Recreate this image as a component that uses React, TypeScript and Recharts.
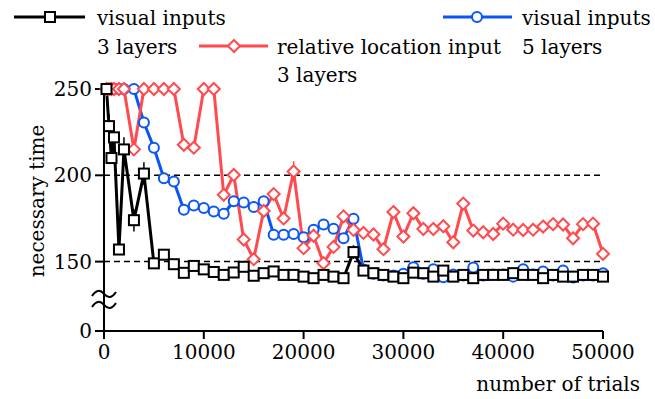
import React from "react";
import {
  LineChart,
  Line,
  XAxis,
  YAxis,
  ReferenceLine,
  ErrorBar,
  Customized,
} from "recharts";

// number of trials at which each run was measured
const trials = [
  250, 500, 750, 1000, 1500, 2000, 3000, 4000, 5000, 6000, 7000, 8000, 9000, 10000,
  11000, 12000, 13000, 14000, 15000, 16000, 17000, 18000, 19000, 20000,
  21000, 22000, 23000, 24000, 25000, 26000, 27000, 28000, 29000, 30000,
  31000, 32000, 33000, 34000, 35000, 36000, 37000, 38000, 39000, 40000,
  41000, 42000, 43000, 44000, 45000, 46000, 47000, 48000, 49000, 50000,
];

const visual3 = [
  250, 228.5, 210, 222, 157, 215, 174, 201, 149, 154, 148.5, 143.5, 147.5, 145.5,
  144, 142.3, 143.7, 147, 141.8, 143.3, 144.3, 142.3, 142.3, 141.3,
  140.4, 142.3, 141.3, 140.4, 155.5, 144.8, 143.3, 142.3, 141.3, 140.4,
  143.6, 143.3, 141.3, 144.8, 141.3, 142.3, 140.4, 142.3, 142.3, 142.3,
  143.3, 142.3, 142.3, 140.4, 142.3, 141.3, 141.3, 142.3, 142.3, 141.3,
];
const visual3Err = [
  0, 7, 0, 6, 0, 7, 6.5, 6.5, 0, 0, 0, 0, 0, 0,
  0, 0, 0, 0, 0, 0, 0, 0, 0, 0,
  0, 0, 0, 0, 4, 0, 0, 0, 0, 0,
  0, 0, 0, 0, 0, 0, 0, 0, 0, 0,
  0, 0, 0, 0, 0, 0, 0, 0, 0, 0,
];

const relative3 = [
  250, 250, 250, 250, 250, 250, 215, 250, 250, 250, 250, 217.7, 216, 250,
  250, 188.7, 200.2, 162.8, 151.4, 179.3, 189.1, 175, 202.2, 157.8,
  165, 149.1, 158.5, 176.2, 168.4, 166.6, 165.7, 157.2, 178.7, 164.5,
  178, 168.9, 168.9, 170.5, 161.2, 183.6, 168, 167, 166, 172,
  168.5, 168.3, 168.5, 170.3, 171.7, 171.5, 163.5, 171.7, 172, 154.5,
];
const relative3Err = [
  0, 0, 0, 0, 0, 0, 0, 0, 0, 0, 0, 0, 0, 0,
  0, 0, 0, 0, 0, 0, 0, 0, 6, 0,
  0, 0, 0, 0, 0, 0, 0, 0, 0, 0,
  0, 0, 0, 0, 0, 0, 0, 0, 0, 0,
  0, 0, 0, 0, 0, 0, 0, 0, 0, 0,
];

const visual5 = [
  250, 250, 250, 250, 250, 250, 250, 230.6, 216, 198.3, 196.4, 180, 182.5, 181,
  179, 177.7, 185, 184.3, 181.7, 185, 165.6, 165.6, 166, 164.1,
  168.5, 171.5, 169, 163.6, 174.8, 145.5, 143, 142, 142, 143,
  146.8, 143, 145.6, 141, 142.5, 142, 146.6, 142, 142.5, 142.5,
  141.3, 145.6, 142.5, 144.3, 142, 144.8, 140.8, 142, 142, 143.3,
];

const xTicks = [0, 10000, 20000, 30000, 40000, 50000];
const yTickLabels = ["0", "150", "200", "250"];

// the y axis is broken between 0 and 150: 0 sits GAP units below 150
const GAP = 40.2;
const brk = (v: number) => (v <= 0 ? 0 : v - 150 + GAP);
const yTickValues = [0, 150, 200, 250].map(brk);

const data = trials.map((t, i) => ({
  trials: t,
  v3: brk(visual3[i]),
  v3err: visual3Err[i],
  r3: brk(relative3[i]),
  r3err: relative3Err[i],
  v5: brk(visual5[i]),
}));

const BLACK = "#000000";
const RED = "#ff4b4f";
const BLUE = "#0a55f5";
const FONT = "DejaVu Serif";
const FS = 20;

const Square = (props: any) => {
  const { cx, cy } = props;
  if (cx == null || cy == null) return null;
  return <rect x={cx - 5} y={cy - 5} width={10} height={10} fill="#fff" stroke={BLACK} strokeWidth={2} />;
};

const Diamond = (props: any) => {
  const { cx, cy } = props;
  if (cx == null || cy == null) return null;
  const r = 6;
  return (
    <polygon
      points={`${cx},${cy - r} ${cx + r},${cy} ${cx},${cy + r} ${cx - r},${cy}`}
      fill="#fff"
      stroke={RED}
      strokeWidth={2}
    />
  );
};

const Circle = (props: any) => {
  const { cx, cy } = props;
  if (cx == null || cy == null) return null;
  return <circle cx={cx} cy={cy} r={5} fill="#fff" stroke={BLUE} strokeWidth={2} />;
};

const BreakMark = (props: any) => {
  const { viewBox } = props;
  if (!viewBox) return null;
  const x = viewBox.x;
  const y = viewBox.y;
  const wave = (yy: number) => `M${x - 12},${yy + 2} q6,-9 12,-2 t12,-2`;
  return (
    <g>
      <path d={wave(y - 6)} fill="none" stroke={BLACK} strokeWidth={2} />
      <path d={wave(y + 5)} fill="none" stroke={BLACK} strokeWidth={2} />
    </g>
  );
};

const LegendBlock = () => (
  <g style={{ fontFamily: FONT }} fontSize={FS} fill="#000">
    <line x1={14} y1={17} x2={85} y2={17} stroke={BLACK} strokeWidth={3} />
    <Square cx={50} cy={17} />
    <text x={97} y={25}>visual inputs</text>
    <text x={97} y={54}>3 layers</text>

    <line x1={199} y1={46} x2={268} y2={46} stroke={RED} strokeWidth={3} />
    <Diamond cx={234} cy={46} />
    <text x={277} y={54}>relative location input</text>
    <text x={277} y={82}>3 layers</text>

    <line x1={443} y1={17} x2={512} y2={17} stroke={BLUE} strokeWidth={3} />
    <Circle cx={477} cy={17} />
    <text x={522} y={25}>visual inputs</text>
    <text x={522} y={54}>5 layers</text>
  </g>
);

export default function App() {
  return (
    <div style={{ position: "absolute", left: 0, top: 0, fontFamily: FONT }}>
      <LineChart
        width={655}
        height={399}
        data={data}
        margin={{ top: 89, right: 52, bottom: 0, left: 0 }}
      >
        <XAxis
          dataKey="trials"
          type="number"
          domain={[0, 50000]}
          ticks={xTicks}
          interval={0}
          height={68}
          stroke={BLACK}
          strokeWidth={2}
          tickSize={8}
          tickMargin={6}
          tick={{ fill: "#000", fontSize: FS, style: { fontFamily: FONT } }}
          label={{
            content: () => (
              <text x={640} y={391} textAnchor="end" fontSize={FS} style={{ fontFamily: FONT }} fill="#000">
                number of trials
              </text>
            ),
          }}
        />
        <XAxis xAxisId="top" orientation="top" type="number" domain={[0, 50000]} height={0} tick={false} tickLine={false} stroke={BLACK} strokeWidth={2} />
        <YAxis
          type="number"
          domain={[0, brk(250)]}
          ticks={yTickValues}
          interval={0}
          width={104}
          stroke={BLACK}
          strokeWidth={2}
          tickSize={9}
          tickMargin={3}
          tickFormatter={(v: number) => yTickLabels[yTickValues.indexOf(v)] ?? ""}
          tick={{ fill: "#000", fontSize: FS, style: { fontFamily: FONT } }}
          label={{
            content: () => {
              const x = 44;
              const y = 201;
              return (
                <text
                  x={x}
                  y={y}
                  transform={`rotate(-90, ${x}, ${y})`}
                  textAnchor="middle"
                  fontSize={FS}
                  style={{ fontFamily: FONT }}
                  fill="#000"
                >
                  necessary time
                </text>
              );
            },
          }}
        />
        <YAxis yAxisId="right" orientation="right" type="number" domain={[0, brk(250)]} width={0} tick={false} tickLine={false} stroke={BLACK} strokeWidth={2} />

        <ReferenceLine y={brk(150)} stroke={BLACK} strokeWidth={1.5} strokeDasharray="6 4" />
        <ReferenceLine y={brk(200)} stroke={BLACK} strokeWidth={1.5} strokeDasharray="6 4" />
        <ReferenceLine y={18} stroke="none" label={<BreakMark />} />

        <Line
          dataKey="v5"
          stroke={BLUE}
          strokeWidth={3}
          dot={<Circle />}
          activeDot={false}
          isAnimationActive={false}
        />
        <Line
          dataKey="r3"
          stroke={RED}
          strokeWidth={3}
          dot={<Diamond />}
          activeDot={false}
          isAnimationActive={false}
        >
          <ErrorBar dataKey="r3err" direction="y" width={0} stroke={RED} strokeWidth={1.5} isAnimationActive={false} />
        </Line>
        <Line
          dataKey="v3"
          stroke={BLACK}
          strokeWidth={3}
          dot={<Square />}
          activeDot={false}
          isAnimationActive={false}
        >
          <ErrorBar dataKey="v3err" direction="y" width={0} stroke={BLACK} strokeWidth={1.5} isAnimationActive={false} />
        </Line>
        <Customized component={LegendBlock} />
      </LineChart>
    </div>
  );
}
